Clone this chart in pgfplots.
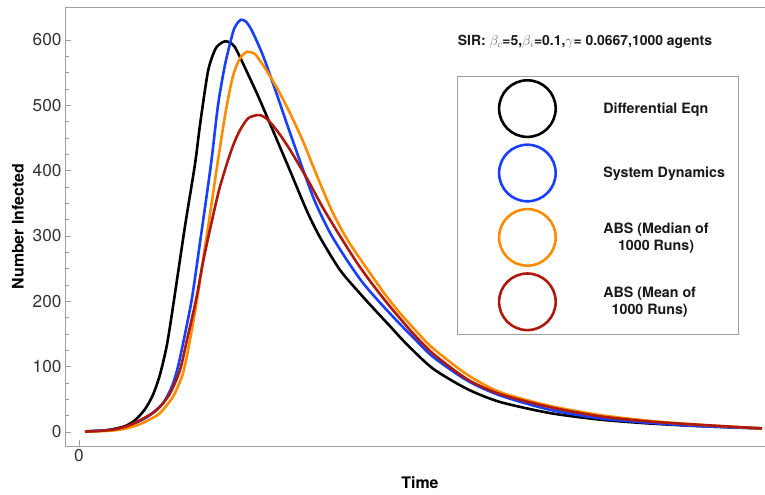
\documentclass[border=0pt]{standalone}
\usepackage{pgfplots}
\pgfplotsset{compat=1.18}
\usepackage{fontspec}
\setmainfont{TeX Gyre Heros}
\definecolor{mblue}{rgb}{0.1,0.25,1}
\definecolor{morange}{rgb}{1,0.55,0}
\definecolor{mred}{rgb}{0.68,0.1,0.05}
\definecolor{framegray}{gray}{0.62}
\begin{document}
\begin{tikzpicture}
\begin{axis}[
  at={(65bp,49bp)}, anchor=south west,
  scale only axis, width=710bp, height=439bp,
  xmin=-14, xmax=696, ymin=-21.4, ymax=650.5,
  axis line style={framegray, line width=0.9bp},
  xtick={0}, ytick={0,100,...,600}, minor y tick num=3,
  tick align=inside, xtick pos=bottom, ytick pos=left,
  major tick length=6bp, minor tick length=3.5bp,
  tick style={framegray, line width=0.6bp},
  tick label style={font=\fontsize{17.3}{19}\selectfont, text=black!80},
  /pgf/number format/assume math mode=true,
  xlabel={Time}, ylabel={Number Infected},
  label style={font=\bfseries\fontsize{16}{18}\selectfont},
  xlabel style={at={(axis description cs:0.5,-0.084)}, anchor=center},
  ylabel style={at={(axis description cs:-0.0662,0.5)}, anchor=center},
  every axis plot/.append style={line width=2.6bp, smooth, tension=0.45},
  legend image code/.code={
    \path[draw=none, fill=none] (0bp,-32.2bp) rectangle (133bp,32.2bp);
    \draw[#1, line width=2.6bp, fill=none] (60bp,0bp) circle (28.3bp);
  },
  legend cell align=left,
  legend style={at={(rel axis cs:0.5521,0.8428)}, anchor=north west,
    draw=framegray, line width=0.8bp, fill=white,
    inner xsep=10bp, inner ysep=0bp, row sep=0bp,
    nodes={font=\bfseries\fontsize{14.3}{17}\selectfont, align=center, inner xsep=3bp, inner ysep=0bp, text=black!90}},
]
\addplot[black] coordinates {
(6,1) (21,2) (31,3.5) (46,9) (56,18) (66,35) (74,57) (81,88) (88,134) (95,202) (106,315) (116,410) (121,470) (129,552) (136,585) (141,594) (146,598) (151,596) (156,589) (164,564) (178,518) (191,472) (201,436) (211,400) (228,338) (241,298) (261,248) (281,212) (294,190) (311,162) (328,134) (354,97) (388,66) (421,46) (471,29) (521,19) (571,13) (621,9) (683,5.5)
};
\addlegendentry{Differential Eqn}
\addplot[mblue] coordinates {
(6,1) (31,3) (46,7) (61,17) (71,26) (84,44) (93,70) (99,100) (106,150) (113,205) (121,290) (132,410) (139,500) (146,562) (154,612) (158,625) (162,631) (167,628) (173,614) (184,576) (198,516) (211,458) (234,360) (251,305) (268,263) (284,228) (301,198) (318,170) (334,145) (354,115) (388,79) (421,56) (471,34) (521,21) (571,14) (621,9) (683,5.5)
};
\addlegendentry{System Dynamics}
\addplot[morange] coordinates {
(6,0.5) (31,2) (46,5) (61,12) (74,22) (81,29) (94,54) (104,90) (111,141) (118,202) (126,283) (131,333) (139,416) (147,493) (154,545) (161,572) (168,582) (174,580) (178,575) (191,545) (201,518) (211,488) (224,445) (238,392) (254,335) (271,288) (304,215) (321,182) (341,148) (354,128) (388,88) (421,61) (471,40) (521,26) (571,17) (621,11) (683,5.5)
};
\addlegendentry{ABS (Median of\\1000 Runs)}
\addplot[mred] coordinates {
(6,0.5) (31,3) (46,8) (61,18) (78,34) (91,59) (101,95) (108,141) (117,202) (124,260) (131,310) (140,370) (149,416) (155,442) (161,462) (169,480) (178,485) (183,484) (188,479) (194,469) (201,455) (211,432) (228,388) (244,343) (261,300) (278,259) (294,225) (311,192) (321,174) (334,151) (354,120) (388,81) (421,58) (471,38) (521,24) (571,16) (621,11) (683,5.5)
};
\addlegendentry{ABS (Mean of\\1000 Runs)}
\node[font=\bfseries\fontsize{14}{16}\selectfont, text=black!90] at (rel axis cs:0.7324,0.9203)
  {SIR: \textcolor{black!60}{$\beta_c$}=5,\textcolor{black!60}{$\beta_i$}=0.1,\textcolor{black!60}{$\gamma$}= 0.0667,1000 agents};
\end{axis}
\pgfresetboundingbox
\path[use as bounding box] (0,0) rectangle (765bp,495bp);
\end{tikzpicture}
\end{document}
